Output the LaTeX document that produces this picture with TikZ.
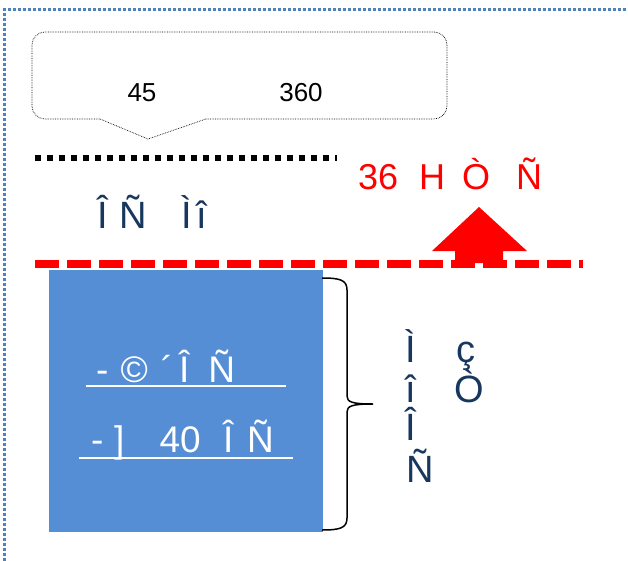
\documentclass[tikz,border=0pt]{standalone}
\usepackage{fontspec}
\setmainfont{Liberation Sans}
\usepackage{xcolor}
\usepackage{tikz}
\definecolor{navy}{HTML}{17375E}
\definecolor{boxblue}{HTML}{558ED5}
\definecolor{frameblue}{HTML}{4F81BD}

\begin{document}
\begin{tikzpicture}[x=1pt,y=-1pt]
\useasboundingbox (0,0) rectangle (628,561);
\draw[frameblue,line width=3pt,dash pattern=on 3pt off 2pt] (4,561) -- (4,10) -- (628,10);
\draw[densely dotted,line width=0.7pt,rounded corners=13pt] (100,119) -- (32,119) -- (32,32) -- (447,32) -- (447,119) -- (206,119);
\draw[densely dotted,line width=0.7pt] (206,119) -- (148,139) -- (100,119);
\node (1) at (142,102) [anchor=base,font=\fontsize{26}{26}\selectfont] {45};
\node (2) at (301,102) [anchor=base,font=\fontsize{26}{26}\selectfont] {360};
\draw[line width=5.5pt,dash pattern=on 5.5pt off 6.5pt] (35,158) -- (337,158);
\node (3) at (358,190) [anchor=base west,inner sep=0,red,font=\fontsize{36}{36}\selectfont] {36\hspace{21pt}H\hspace{17pt}Ò\hspace{26pt}Ñ};
\node (4) at (97,228) [anchor=base west,inner sep=0,navy,font=\fontsize{38}{38}\selectfont] {Î\hspace{12pt}Ñ\hspace{34pt}Ì\hspace{5pt}î};
\fill[red] (479,207) -- (527,251) -- (503,251) -- (503,263) -- (455,263) -- (455,251) -- (432,251) -- cycle;
\draw[red,line width=8pt,dash pattern=on 24pt off 8pt] (35,264) -- (583,264);
\node (5) at (186,401) [fill=boxblue,minimum width=274pt,minimum height=262pt,inner sep=0] {};
\node (6) at (96,382) [anchor=base west,inner sep=0,white,font=\fontsize{37}{37}\selectfont] {-\hspace{12pt}©\hspace{13pt}´\hspace{6pt}Î\hspace{19pt}Ñ};
\node (7) at (91,452) [anchor=base west,inner sep=0,white,font=\fontsize{37}{37}\selectfont] {-\hspace{10.7pt}]\hspace{35pt}40\hspace{22.4pt}Î\hspace{13.7pt}Ñ};
\draw[white,line width=1.5pt] (86,386) -- (286,386);
\draw[white,line width=1.5pt] (79,458) -- (293,458);
\draw[line width=1.5pt] (322,278) .. controls (340,278) and (347,280) .. (347,290) -- (347,396) .. controls (347,402) and (352,404) .. (373,404) .. controls (352,404) and (347,406) .. (347,412) -- (347,518) .. controls (347,528) and (340,530) .. (322,530);
\node (8) at (411,362) [anchor=base,inner sep=0,navy,font=\fontsize{38}{38}\selectfont] {Ì};
\node (9) at (411,402) [anchor=base,inner sep=0,navy,font=\fontsize{38}{38}\selectfont] {î};
\node (10) at (411,440) [anchor=base,inner sep=0,navy,font=\fontsize{38}{38}\selectfont] {Î};
\node (11) at (420,482) [anchor=base,inner sep=0,navy,font=\fontsize{38}{38}\selectfont] {Ñ};
\node (12) at (466,362) [anchor=base,inner sep=0,navy,font=\fontsize{38}{38}\selectfont] {ç};
\node (13) at (469,402) [anchor=base,inner sep=0,navy,font=\fontsize{38}{38}\selectfont] {Ò};
\end{tikzpicture}
\end{document}
